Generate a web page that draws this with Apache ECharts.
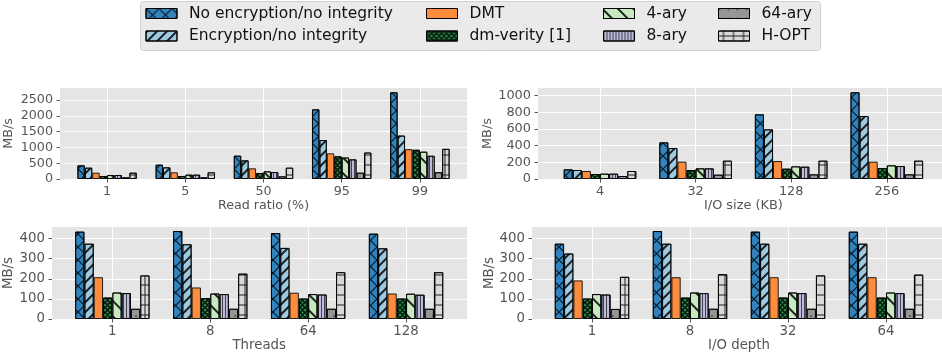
<!DOCTYPE html>
<html>
<head>
<meta charset="utf-8">
<script src="https://cdn.jsdelivr.net/npm/echarts@6/dist/echarts.min.js"></script>
<style>
  html, body { margin: 0; padding: 0; background: #fff; }
  #chart { width: 942px; height: 358px; }
</style>
</head>
<body>
<div id="chart"></div>
<script>
const seriesNames = ['No encryption/no integrity', 'Encryption/no integrity', 'DMT', 'dm-verity [1]', '4-ary', '8-ary', '64-ary', 'H-OPT'];
const seriesColors = ['#3182bd', '#9ecae1', '#fd8d3c', '#31a354', '#c7e9c0', '#bcbddc', '#969696', '#d9d9d9'];

// Read ratio (%) panel, one row per series
const readRatioCats = ['1', '5', '50', '95', '99'];
const readRatioValues = [
    [432, 454, 738, 2205, 2744],
    [359, 369, 590, 1234, 1375],
    [200, 211, 338, 812, 945],
    [95, 95, 190, 718, 925],
    [127, 137, 243, 680, 864],
    [127, 137, 221, 622, 735],
    [53, 53, 84, 200, 215],
    [200, 211, 359, 838, 955]
];
const readRatioTicks = [0, 500, 1000, 1500, 2000, 2500];

// I/O size (KB) panel
const ioSizeCats = ['4', '32', '128', '256'];
const ioSizeValues = [
    [116, 440, 776, 1040],
    [108, 372, 596, 756],
    [96, 208, 216, 208],
    [60, 108, 124, 132],
    [64, 128, 152, 164],
    [64, 128, 148, 156],
    [36, 52, 56, 56],
    [96, 220, 220, 220]
];
const ioSizeTicks = [0, 200, 400, 600, 800, 1000];

// Threads panel
const threadCats = ['1', '8', '64', '128'];
const threadValues = [
    [435, 438, 428, 425],
    [375, 372, 354, 352],
    [208, 157, 131, 127],
    [107, 104, 102, 102],
    [132, 127, 124, 126],
    [129, 124, 122, 121],
    [51, 51, 51, 51],
    [217, 226, 233, 233]
];
const threadTicks = [0, 100, 200, 300, 400];

// I/O depth panel
const ioDepthCats = ['1', '8', '32', '64'];
const ioDepthValues = [
    [375, 438, 435, 435],
    [326, 375, 375, 375],
    [192, 208, 208, 208],
    [102, 107, 107, 107],
    [124, 132, 132, 132],
    [122, 129, 129, 129],
    [50, 51, 51, 51],
    [210, 223, 217, 221]
];
const ioDepthTicks = [0, 100, 200, 300, 400];

const FONT = 'DejaVu Sans';
const GREY_TEXT = '#555555';
const HATCH = 'rgba(0,0,0,0.85)';

// hatch patterns, roughly like matplotlib's x // o \ | . +
// (decal rotation goes clockwise on screen, so -45deg gives '/')
const hatches = [
    { symbol: 'path://M0,0L6,0L100,94L100,100L94,100L0,6Z M94,0L100,0L100,6L6,100L0,100L0,94Z', symbolSize: 1, symbolKeepAspect: false, dashArrayX: [13, 0], dashArrayY: [13, 0], color: HATCH },
    { symbol: 'rect', symbolSize: 1, dashArrayX: [1, 0], dashArrayY: [1.1, 4.6], rotation: -Math.PI / 4, color: HATCH },
    null,
    { symbol: 'path://M50,0A50,50 0 1,1 50,100A50,50 0 1,1 50,0Z M50,28A22,22 0 1,0 50,72A22,22 0 1,0 50,28Z', symbolSize: 1, symbolKeepAspect: false, dashArrayX: [4.5, 0], dashArrayY: [4.5, 0], color: 'rgba(0,0,0,0.9)' },
    { symbol: 'rect', symbolSize: 1, dashArrayX: [1, 0], dashArrayY: [1.1, 8.3], rotation: Math.PI / 4, color: HATCH },
    { symbol: 'rect', symbolSize: 1, dashArrayX: [1, 1.5], dashArrayY: [1, 0], color: 'rgba(0,0,0,0.65)' },
    { symbol: 'circle', symbolSize: 0.8, dashArrayX: [2, 7], dashArrayY: [2, 7], color: 'rgba(0,0,0,0.8)' },
    { symbol: 'path://M0,45L100,45L100,55L0,55Z M45,0L55,0L55,100L45,100Z', symbolSize: 1, symbolKeepAspect: false, dashArrayX: [10, 0], dashArrayY: [10, 0], color: HATCH }
];

const panels = [
    { cats: readRatioCats, values: readRatioValues, ticks: readRatioTicks, yMax: 2880, interval: 500, xName: 'Read ratio (%)',
      bg: { left: 60, top: 88, width: 407, height: 91 }, bar: { left: 68, width: 391 }, yNameGap: 44.5, fs: 12.7 },
    { cats: ioSizeCats, values: ioSizeValues, ticks: ioSizeTicks, yMax: 1092, interval: 200, xName: 'I/O size (KB)',
      bg: { left: 538, top: 88, width: 404, height: 91 }, bar: { left: 552.2, width: 382.4 }, yNameGap: 42, fs: 12.9 },
    { cats: threadCats, values: threadValues, ticks: threadTicks, yMax: 458, interval: 100, xName: 'Threads',
      bg: { left: 52, top: 227, width: 415, height: 92 }, bar: { left: 63.4, width: 391.6 }, yNameGap: 36.5, fs: 13.3 },
    { cats: ioDepthCats, values: ioDepthValues, ticks: ioDepthTicks, yMax: 458, interval: 100, xName: 'I/O depth',
      bg: { left: 532, top: 227, width: 410, height: 92 }, bar: { left: 543, width: 392 }, yNameGap: 36, fs: 13.3 }
];

const grid = [], xAxis = [], yAxis = [], series = [];

panels.forEach((p, i) => {
    const bgIdx = i * 2, barIdx = i * 2 + 1;

    // grey plot area with the horizontal grid lines and y labels
    grid.push({ left: p.bg.left, top: p.bg.top, width: p.bg.width, height: p.bg.height,
        show: true, backgroundColor: '#e5e5e5', borderWidth: 0, containLabel: false, outerBoundsMode: 'none' });
    // grid holding the bar groups, narrower so the categories line up
    grid.push({ left: p.bar.left, top: p.bg.top, width: p.bar.width, height: p.bg.height,
        show: false, containLabel: false, outerBoundsMode: 'none' });

    xAxis.push({ gridIndex: bgIdx, type: 'value', min: 0, max: 1, show: false });
    xAxis.push({
        gridIndex: barIdx, type: 'category', data: p.cats,
        name: p.xName, nameLocation: 'middle', nameGap: 20.5,
        nameTextStyle: { color: GREY_TEXT, fontSize: p.fs, fontFamily: FONT },
        axisLine: { show: false },
        axisTick: { show: true, alignWithLabel: true, length: 3.5, lineStyle: { color: GREY_TEXT } },
        axisLabel: { color: GREY_TEXT, fontSize: p.fs, margin: 6, fontFamily: FONT },
        splitLine: { show: true, alignWithLabel: true, lineStyle: { color: '#ffffff', width: 1 } }
    });

    yAxis.push({
        gridIndex: bgIdx, type: 'value', min: 0, max: p.yMax, interval: p.interval,
        name: 'MB/s', nameLocation: 'middle', nameGap: p.yNameGap,
        nameTextStyle: { color: GREY_TEXT, fontSize: p.fs, fontFamily: FONT },
        axisLine: { show: false },
        axisTick: { show: true, length: 3.5, lineStyle: { color: GREY_TEXT }, customValues: p.ticks },
        axisLabel: { color: GREY_TEXT, fontSize: p.fs, margin: 7, fontFamily: FONT, customValues: p.ticks,
            formatter: v => String(v) },
        splitLine: { show: true, lineStyle: { color: '#ffffff', width: 1 } }
    });
    yAxis.push({ gridIndex: barIdx, type: 'value', min: 0, max: p.yMax, show: false });

    seriesNames.forEach((name, k) => {
        const itemStyle = { color: seriesColors[k], borderColor: 'rgba(0,0,0,0.85)', borderWidth: 1 };
        if (hatches[k]) itemStyle.decal = hatches[k];
        series.push({
            name, type: 'bar', xAxisIndex: barIdx, yAxisIndex: barIdx,
            data: p.values[k], barGap: '0%', barCategoryGap: '24%',
            itemStyle, silent: true
        });
    });
});

const legendCols = [[0, 1], [2, 3], [4, 5], [6, 7]];
const legendLefts = [145.5, 426, 603, 718];

const chart = echarts.init(document.getElementById('chart'));
chart.setOption({
    animation: false,
    textStyle: { fontFamily: FONT },
    graphic: [{
        type: 'rect', shape: { x: 140.5, y: 1.5, width: 680, height: 49, r: 3 },
        style: { fill: '#eaeaea', stroke: '#d0d0d0', lineWidth: 1 }, z: 0
    }],
    legend: legendCols.map((col, i) => ({
        data: col.map(k => seriesNames[k]),
        orient: 'vertical', left: legendLefts[i], top: 4.5, padding: 0,
        itemWidth: 31, itemHeight: 10, itemGap: 4.5, icon: 'rect', selectedMode: false,
        itemStyle: { borderColor: '#000', borderWidth: 1 },
        textStyle: { fontSize: 15.5, color: '#111', lineHeight: 18, padding: [0, 0, 0, 7], fontFamily: FONT }
    })),
    grid, xAxis, yAxis, series
});
</script>
</body>
</html>
